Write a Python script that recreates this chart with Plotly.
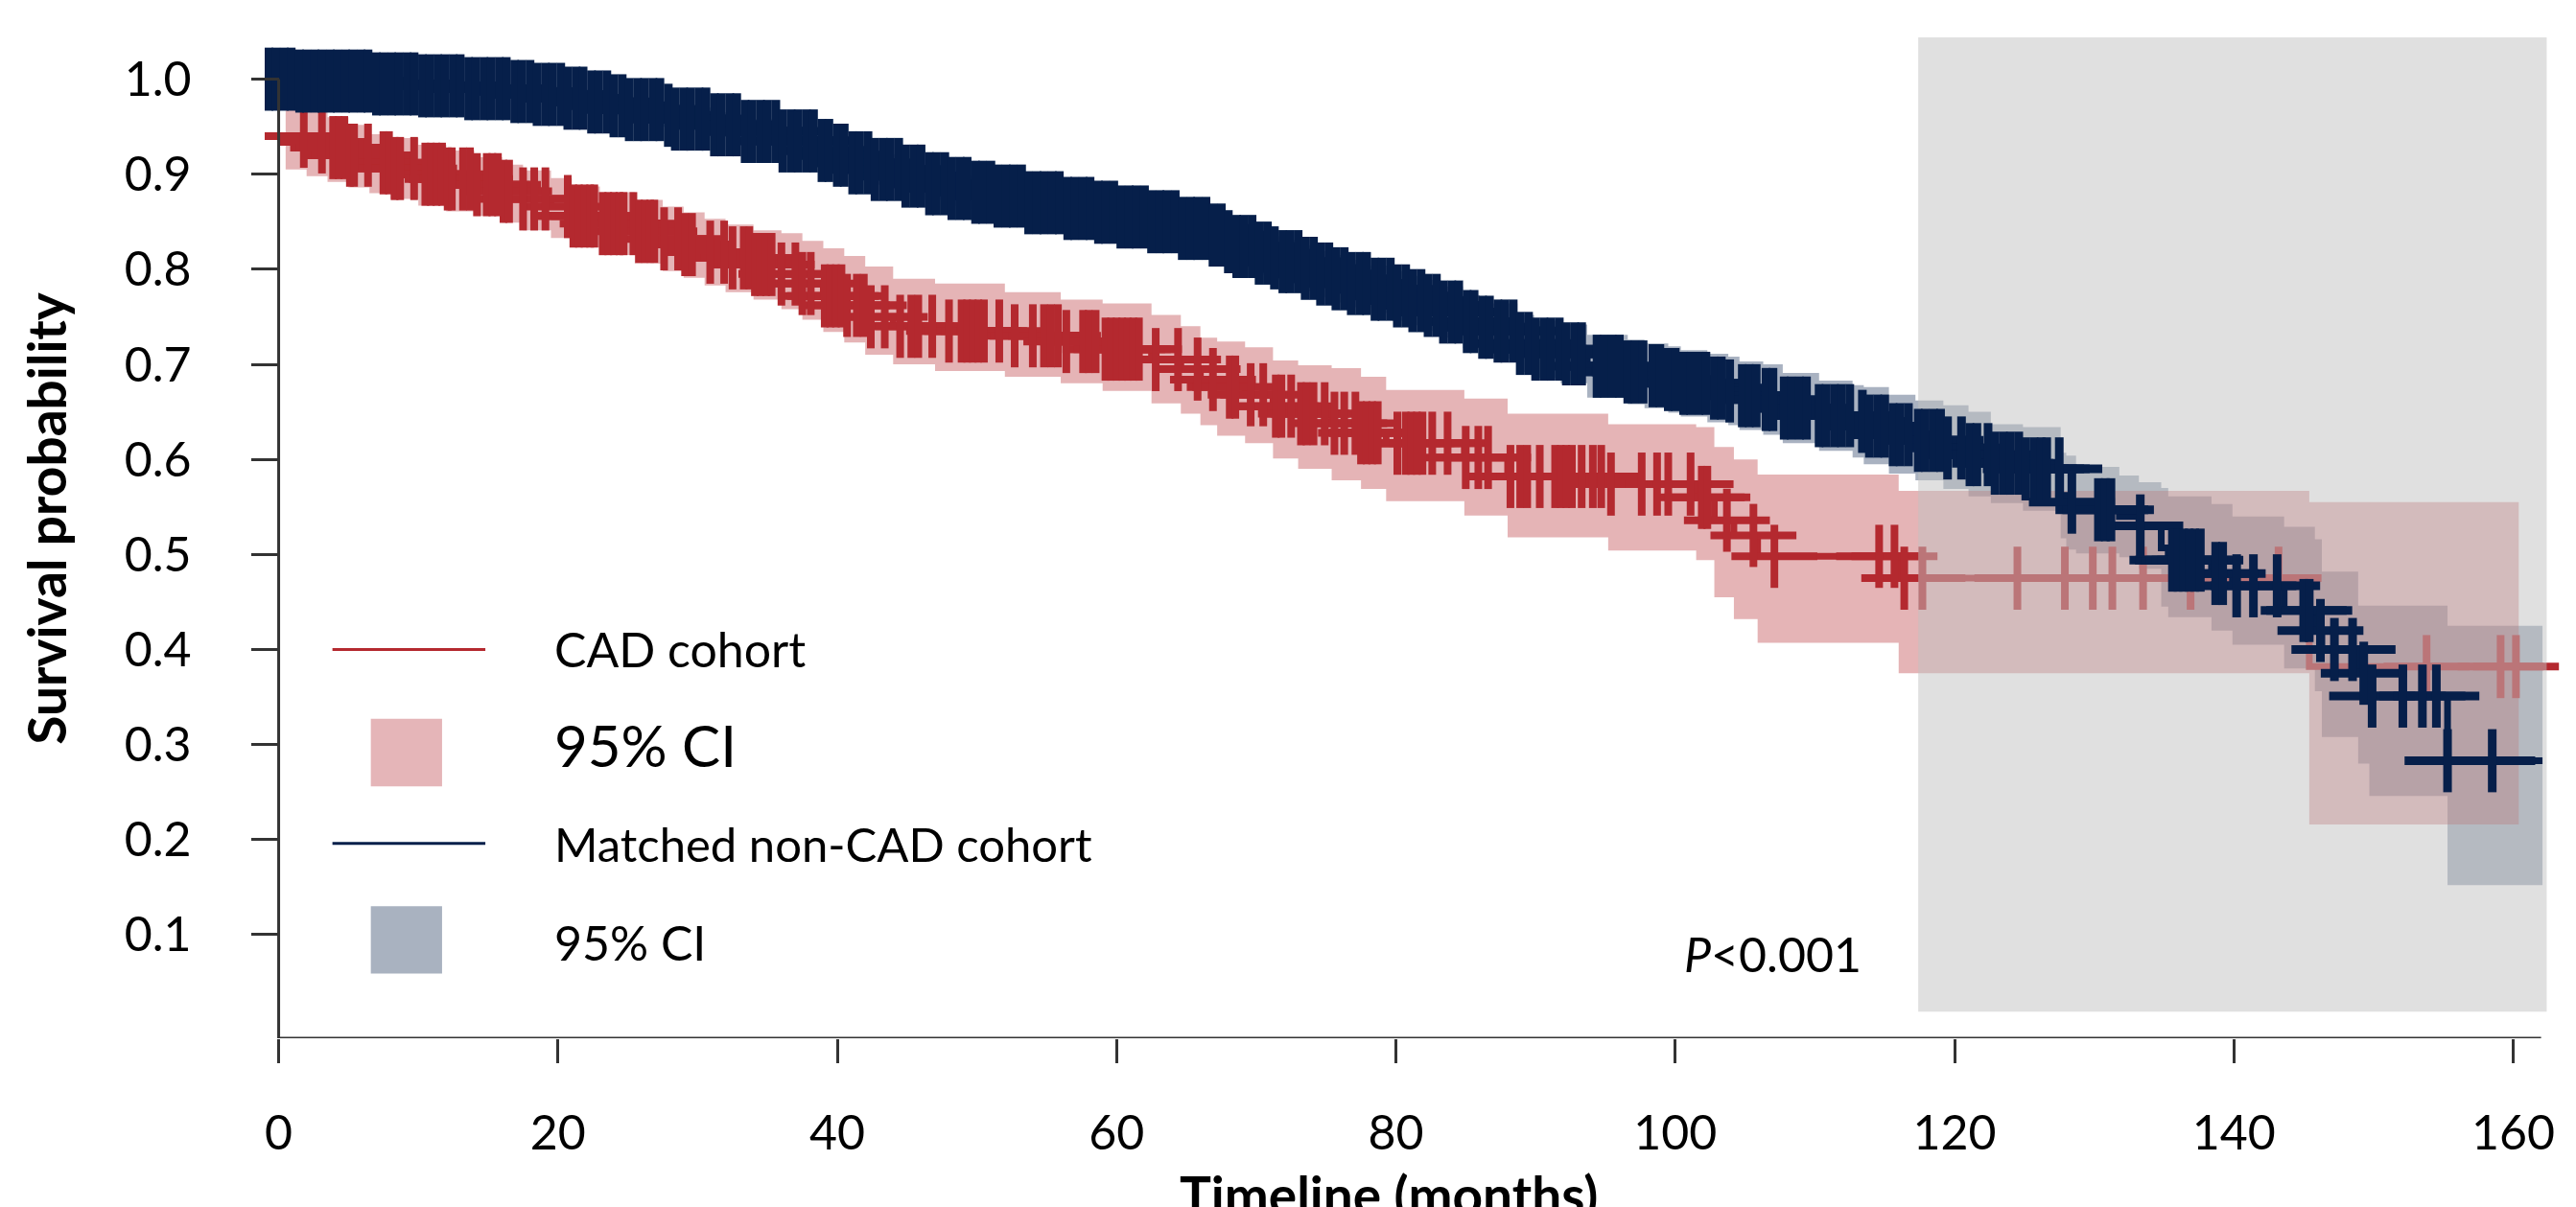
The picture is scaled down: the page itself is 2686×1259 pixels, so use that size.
import numpy as np
import plotly.graph_objects as go

# ---------------- data ----------------
# CAD cohort: Kaplan-Meier step times (months), survival, 95% CI
cad_t = [0.5, 2.0, 3.5, 5.0, 6.5, 8.0, 10.0, 12.0, 14.0, 16.0, 17.5, 19.5, 21.0, 23.0, 25.5, 27.5,
         29.0, 30.5, 32.0, 34.0, 36.0, 37.5, 39.0, 40.5, 42.0, 44.0, 47.0, 52.0, 56.0, 59.0, 62.5,
         64.6, 66.0, 67.2, 69.2, 71.2, 73.0, 75.4, 77.5, 79.3, 84.9, 88.0, 95.2, 101.5, 102.8,
         104.2, 105.9, 116.0, 145.4]
cad_s = [0.940, 0.934, 0.928, 0.920, 0.912, 0.906, 0.900, 0.895, 0.889, 0.882, 0.874, 0.866, 0.856,
         0.848, 0.840, 0.832, 0.826, 0.818, 0.812, 0.805, 0.795, 0.785, 0.772, 0.762, 0.750, 0.740,
         0.735, 0.730, 0.724, 0.716, 0.705, 0.695, 0.684, 0.676, 0.668, 0.656, 0.648, 0.638, 0.628,
         0.617, 0.602, 0.582, 0.574, 0.560, 0.536, 0.520, 0.498, 0.475, 0.382]
cad_hi = [0.972, 0.968, 0.960, 0.952, 0.942, 0.938, 0.931, 0.925, 0.918, 0.910, 0.904, 0.896, 0.887,
          0.881, 0.873, 0.866, 0.860, 0.853, 0.847, 0.841, 0.838, 0.830, 0.822, 0.814, 0.803, 0.790,
          0.785, 0.776, 0.768, 0.764, 0.752, 0.740, 0.728, 0.724, 0.718, 0.704, 0.699, 0.696, 0.687,
          0.673, 0.664, 0.648, 0.637, 0.634, 0.613, 0.600, 0.584, 0.567, 0.555]
cad_lo = [0.905, 0.898, 0.892, 0.886, 0.880, 0.874, 0.867, 0.861, 0.856, 0.849, 0.841, 0.833, 0.823,
          0.815, 0.806, 0.798, 0.791, 0.783, 0.776, 0.768, 0.758, 0.747, 0.734, 0.723, 0.710, 0.700,
          0.693, 0.687, 0.680, 0.672, 0.659, 0.648, 0.636, 0.625, 0.617, 0.601, 0.590, 0.578, 0.569,
          0.556, 0.541, 0.518, 0.504, 0.494, 0.455, 0.432, 0.407, 0.375, 0.216]
cad_end = 160.4
cad_censor = [1.8, 3.1, 3.9, 4.3, 4.7, 5.1, 5.4, 6.4, 7.5, 7.9, 8.3, 8.7, 9.7, 10.5, 10.9, 11.3, 11.7,
              12.1, 12.4, 13.2, 13.7, 14.2, 14.9, 15.3, 15.7, 16.1, 16.5, 17.5, 18.3, 19.1, 20.7, 21.1,
              21.5, 21.9, 22.3, 22.6, 23.2, 23.6, 24.0, 24.4, 24.7, 25.4, 25.8, 26.2, 26.6, 26.9, 27.6,
              28.6, 29.1, 29.6, 30.9, 31.9, 32.5, 33.3, 33.7, 34.1, 34.5, 34.9, 35.3, 36.0, 37.0, 37.5,
              38.1, 39.1, 39.5, 39.9, 40.3, 40.7, 41.4, 41.9, 42.4, 43.4, 44.5, 45.3, 45.8, 46.8, 48.0,
              48.9, 49.3, 49.7, 50.1, 50.5, 51.6, 52.7, 54.0, 54.8, 55.3, 55.8, 56.4, 57.6, 58.0, 58.5,
              59.2, 59.6, 60.0, 60.4, 60.8, 61.2, 61.6, 62.8, 64.4, 65.8, 66.9, 68.1, 68.5, 69.6, 70.5,
              71.4, 71.8, 72.5, 73.2, 73.6, 74.1, 74.9, 75.6, 76.3, 77.1, 77.5, 77.9, 78.3, 78.7, 80.1,
              80.7, 81.1, 81.5, 81.9, 82.6, 83.7, 85.0, 85.9, 86.6, 88.2, 88.9, 89.4, 90.3, 91.4, 91.8,
              92.2, 92.6, 93.3, 94.1, 94.7, 95.4, 97.6, 98.7, 99.5, 101.1, 101.9, 102.3, 103.7, 105.6,
              107.1, 114.6, 115.7, 116.4, 117.7, 124.5, 127.9, 129.9, 131.3, 133.5, 136.9, 143.2,
              153.8, 159.1, 160.2]

# Matched non-CAD cohort
non_t = [-1.0, 1.4, 7.0, 10.0, 13.5, 16.6, 18.4, 20.5, 22.4, 23.6, 25.0, 27.5, 28.4, 31.0, 32.9,
         35.9, 38.4, 39.6, 41.0, 42.7, 44.5, 46.2, 48.0, 49.5, 51.3, 53.5, 56.0, 58.2, 60.3, 62.2,
         64.5, 66.5, 67.6, 68.6, 70.0, 71.0, 71.8, 73.3, 74.3, 75.6, 76.6, 78.2, 79.7, 81.0, 82.1,
         83.2, 84.8, 86.0, 86.8, 88.7, 89.9, 91.8, 93.7, 96.6, 97.8, 99.5, 100.4, 102.3, 103.8,
         104.6, 106.3, 107.7, 110.3, 112.7, 113.5, 115.3, 117.2, 119.2, 121.0, 122.6, 124.9, 127.6,
         128.0, 128.7, 131.8, 133.2, 134.8, 135.3, 138.4, 139.9, 143.6, 145.8, 146.3, 148.9, 149.7,
         155.3]
non_s = [1.000, 0.998, 0.995, 0.993, 0.990, 0.987, 0.984, 0.980, 0.976, 0.972, 0.968, 0.962, 0.958,
         0.952, 0.945, 0.935, 0.925, 0.920, 0.912, 0.905, 0.898, 0.890, 0.885, 0.881, 0.877, 0.870,
         0.864, 0.860, 0.855, 0.850, 0.843, 0.836, 0.829, 0.824, 0.817, 0.812, 0.808, 0.801, 0.795,
         0.790, 0.785, 0.779, 0.772, 0.767, 0.762, 0.755, 0.745, 0.739, 0.735, 0.722, 0.716, 0.711,
         0.698, 0.692, 0.688, 0.684, 0.680, 0.675, 0.672, 0.667, 0.663, 0.654, 0.646, 0.640, 0.635,
         0.626, 0.620, 0.612, 0.605, 0.596, 0.590, 0.562, 0.555, 0.547, 0.540, 0.530, 0.507, 0.494,
         0.480, 0.467, 0.441, 0.420, 0.400, 0.375, 0.351, 0.283]
non_hi = [1.000, 1.000, 0.999, 0.998, 0.996, 0.994, 0.992, 0.989, 0.986, 0.982, 0.979, 0.974, 0.970,
          0.965, 0.958, 0.949, 0.940, 0.935, 0.928, 0.921, 0.915, 0.907, 0.903, 0.899, 0.895, 0.889,
          0.883, 0.880, 0.875, 0.871, 0.864, 0.858, 0.851, 0.846, 0.840, 0.835, 0.831, 0.825, 0.819,
          0.815, 0.810, 0.804, 0.798, 0.793, 0.789, 0.782, 0.773, 0.767, 0.764, 0.752, 0.746, 0.742,
          0.731, 0.726, 0.722, 0.719, 0.715, 0.711, 0.708, 0.703, 0.700, 0.691, 0.683, 0.678, 0.676,
          0.668, 0.662, 0.657, 0.650, 0.637, 0.634, 0.607, 0.604, 0.592, 0.583, 0.576, 0.570, 0.561,
          0.553, 0.540, 0.529, 0.516, 0.482, 0.446, 0.446, 0.425]
non_lo = [0.999, 0.996, 0.991, 0.988, 0.984, 0.980, 0.976, 0.971, 0.966, 0.962, 0.957, 0.950, 0.946,
          0.939, 0.932, 0.921, 0.910, 0.905, 0.896, 0.889, 0.881, 0.873, 0.867, 0.863, 0.859, 0.851,
          0.845, 0.840, 0.835, 0.829, 0.822, 0.814, 0.807, 0.802, 0.794, 0.789, 0.785, 0.777, 0.771,
          0.765, 0.760, 0.754, 0.746, 0.741, 0.735, 0.728, 0.717, 0.711, 0.706, 0.692, 0.686, 0.680,
          0.665, 0.658, 0.654, 0.649, 0.645, 0.639, 0.636, 0.631, 0.626, 0.617, 0.609, 0.602, 0.595,
          0.585, 0.578, 0.569, 0.561, 0.554, 0.546, 0.517, 0.505, 0.501, 0.497, 0.485, 0.445, 0.434,
          0.420, 0.405, 0.380, 0.356, 0.308, 0.280, 0.246, 0.152]
non_end = 162.1
non_censor = [-0.7, -0.2, 0.4, 0.9, 1.5, 2.0, 2.6, 3.1, 3.7, 4.2,
              4.8, 5.3, 5.9, 6.4, 7.0, 7.5, 8.1, 8.6, 9.2, 9.7,
              10.3, 10.8, 11.4, 11.9, 12.5, 13.0, 13.6, 14.1, 14.7, 15.2,
              15.8, 16.3, 16.9, 17.4, 18.0, 18.5, 19.1, 19.6, 20.2, 20.7,
              21.3, 21.8, 22.4, 22.9, 23.5, 24.0, 24.6, 25.1, 25.7, 26.2,
              26.8, 27.3, 27.9, 28.4, 29.0, 29.5, 30.1, 30.6, 31.2, 31.7,
              32.3, 32.8, 33.4, 33.9, 34.5, 35.0, 35.6, 36.1, 36.7, 37.2,
              37.8, 38.3, 38.9, 39.4, 40.0, 40.5, 41.1, 41.6, 42.2, 42.7,
              43.3, 43.8, 44.4, 44.9, 45.5, 46.0, 46.6, 47.1, 47.7, 48.2,
              48.8, 49.3, 49.9, 50.4, 51.0, 51.5, 52.1, 52.6, 53.2, 53.7,
              54.3, 54.8, 55.4, 55.9, 56.5, 57.0, 57.6, 58.1, 58.7, 59.2,
              59.8, 60.3, 60.9, 61.4, 62.0, 62.5, 63.1, 63.6, 64.2, 64.7,
              65.3, 65.8, 66.4, 66.9, 67.5, 68.0, 68.6, 69.1, 69.7, 70.2,
              70.8, 71.3, 71.9, 72.4, 73.0, 73.5, 74.1, 74.6, 75.2, 75.7,
              76.3, 76.8, 77.4, 77.9, 78.5, 79.0, 79.6, 80.1, 80.7, 81.2,
              81.8, 82.3, 82.9, 83.4, 84.0, 84.5, 85.1, 85.6, 86.2, 86.7,
              87.3, 87.8, 88.4, 88.9, 89.5, 90.0, 90.6, 91.1, 91.7, 92.2,
              92.8, 93.3, 94.4, 94.9, 95.5, 96.0, 96.6, 97.1, 97.7, 98.4,
              98.9, 99.5, 100.0, 100.6, 101.1, 101.7, 102.2, 102.8, 103.3, 103.9,
              104.8, 105.3, 105.8, 106.5, 107.0, 107.8, 108.3, 108.9, 109.4, 110.3,
              110.8, 111.4, 111.9, 112.5, 113.4, 113.9, 114.5, 115.0, 115.6, 116.1,
              116.7, 117.4, 117.9, 118.5, 119.0, 119.5, 120.5, 121.1, 121.6, 122.4,
              122.9, 123.5, 124.0, 124.6, 125.1, 125.7, 126.2, 126.6,
              127.5, 128.4, 130.3, 130.8, 131.2, 133.3, 135.6, 136.0, 136.4, 136.8, 137.2, 137.6,
              138.7, 139.2, 140.2, 141.4, 143.1, 145.0, 145.4, 146.2, 147.2, 148.5, 149.3, 149.9,
              152.1, 153.5, 154.5, 155.3, 158.5]

shade_x = [117.4, 162.4]     # grey shaded follow-up window
shade_y = [0.019, 1.044]

x_ticks = [0, 20, 40, 60, 80, 100, 120, 140, 160]
y_ticks = [0.1, 0.2, 0.3, 0.4, 0.5, 0.6, 0.7, 0.8, 0.9, 1.0]
x_range = [-1.0, 163.4]
y_range = [-0.009, 1.05]
x_axis_end = 162

# ---------------- style ----------------
RED = "#B4292F"
NAVY = "#061F4A"
RED_CI = "rgba(180,41,47,0.35)"
NAVY_CI = "rgba(6,31,74,0.345)"
GREY = "rgba(193,193,193,0.5)"
AX = "#333333"
FONT = "Lato"
W, H = 2686, 1259
ML, MR, MT, MB = 276, 16, 33, 176


def step_xy(t, v, end):
    return list(t) + [end], list(v) + [v[-1]]


def censor_y(t, s, c):
    idx = np.searchsorted(np.array(t), np.array(c), side="right") - 1
    idx = np.clip(idx, 0, len(s) - 1)
    return list(np.array(s)[idx])


fig = go.Figure()


def add_ci(t, hi, lo, end, color):
    xl, yl = step_xy(t, lo, end)
    xh, yh = step_xy(t, hi, end)
    fig.add_trace(go.Scatter(x=xl, y=yl, mode="lines", line=dict(width=0, shape="hv"),
                             hoverinfo="skip", showlegend=False))
    fig.add_trace(go.Scatter(x=xh, y=yh, mode="lines", line=dict(width=0, shape="hv"),
                             fill="tonexty", fillcolor=color, hoverinfo="skip", showlegend=False))


def add_km(t, s, end, censor, color, lw, mw):
    xs, ys = step_xy(t, s, end)
    fig.add_trace(go.Scatter(x=xs, y=ys, mode="lines", line=dict(color=color, width=lw, shape="hv"),
                             showlegend=False))
    cy = censor_y(t, s, censor)
    fig.add_trace(go.Scatter(x=censor, y=cy, mode="markers",
                             marker=dict(symbol="line-ew", size=64, line=dict(color=color, width=mw)),
                             showlegend=False))
    fig.add_trace(go.Scatter(x=censor, y=cy, mode="markers",
                             marker=dict(symbol="line-ns", size=47, line=dict(color=color, width=mw)),
                             showlegend=False))


# layering: non-CAD CI, CAD CI, CAD curve, grey window, non-CAD curve
add_ci(non_t, non_hi, non_lo, non_end, NAVY_CI)
add_ci(cad_t, cad_hi, cad_lo, cad_end, RED_CI)
add_km(cad_t, cad_s, cad_end, cad_censor, RED, 7, 8)
fig.add_trace(go.Scatter(x=[shade_x[0], shade_x[1], shade_x[1], shade_x[0], shade_x[0]],
                         y=[shade_y[0], shade_y[0], shade_y[1], shade_y[1], shade_y[0]],
                         mode="lines", line=dict(width=0), fill="toself", fillcolor=GREY,
                         hoverinfo="skip", showlegend=False))
add_km(non_t, non_s, non_end, non_censor, NAVY, 7, 9)

# axis lines (bounded spines)
shapes = [
    dict(type="line", xref="x", yref="y", x0=0, x1=0, y0=y_range[0], y1=1.0,
         line=dict(color=AX, width=3)),
    dict(type="line", xref="x", yref="y", x0=0, x1=x_axis_end, y0=y_range[0], y1=y_range[0],
         line=dict(color=AX, width=3)),
    # legend symbols
    dict(type="line", xref="x", yref="y", x0=3.85, x1=14.8, y0=0.40, y1=0.40,
         line=dict(color=RED, width=3)),
    dict(type="rect", xref="x", yref="y", x0=6.6, x1=11.7, y0=0.256, y1=0.327,
         fillcolor="#E5B5B8", line=dict(width=0)),
    dict(type="line", xref="x", yref="y", x0=3.85, x1=14.8, y0=0.196, y1=0.196,
         line=dict(color=NAVY, width=3)),
    dict(type="rect", xref="x", yref="y", x0=6.6, x1=11.7, y0=0.059, y1=0.130,
         fillcolor="#A9B2C0", line=dict(width=0)),
]

plot_w = W - ML - MR
plot_h = H - MT - MB
annotations = [
    dict(x=19.6, y=0.400, xref="x", yref="y", text="CAD cohort", showarrow=False,
         xanchor="left", yanchor="middle", font=dict(family=FONT, size=50, color="black")),
    dict(x=19.6, y=0.300, xref="x", yref="y", text="95% CI", showarrow=False,
         xanchor="left", yanchor="middle", font=dict(family=FONT, size=60, color="black")),
    dict(x=19.6, y=0.196, xref="x", yref="y", text="Matched non-CAD cohort", showarrow=False,
         xanchor="left", yanchor="middle", font=dict(family=FONT, size=49, color="black")),
    dict(x=19.6, y=0.092, xref="x", yref="y", text="95% CI", showarrow=False,
         xanchor="left", yanchor="middle", font=dict(family=FONT, size=50, color="black")),
    dict(x=100.5, y=0.080, xref="x", yref="y", text="<i>P</i>&lt;0.001", showarrow=False,
         xanchor="left", yanchor="middle", font=dict(family=FONT, size=50, color="black")),
    dict(x=79.5, y=-128 / plot_h, xref="x", yref="paper",
         text="Timeline (months)", showarrow=False, xanchor="center", yanchor="top",
         font=dict(family=FONT, size=55, color="black", weight="bold")),
    dict(x=(48 - ML) / plot_w, y=0.538, xref="paper", yref="y", text="Survival probability",
         showarrow=False, textangle=-90, xanchor="center", yanchor="middle",
         font=dict(family=FONT, size=55, color="black", weight="bold")),
]

fig.update_layout(
    width=W, height=H,
    margin=dict(l=ML, r=MR, t=MT, b=MB, autoexpand=False),
    paper_bgcolor="white", plot_bgcolor="white",
    showlegend=False,
    hovermode=False,
    shapes=shapes,
    annotations=annotations,
    xaxis=dict(range=x_range, tickvals=x_ticks, ticks="outside", ticklen=25, tickwidth=3,
               tickcolor=AX, showline=False, showgrid=False, zeroline=False,
               ticklabelstandoff=30, automargin=False,
               tickfont=dict(family=FONT, size=50, color="black")),
    yaxis=dict(range=y_range, tickvals=y_ticks, tickformat=".1f", ticks="outside", ticklen=29,
               tickwidth=3, tickcolor=AX, showline=False, showgrid=False, zeroline=False,
               anchor="free", position=(0 - x_range[0]) / (x_range[1] - x_range[0]),
               ticklabelstandoff=52, automargin=False,
               tickfont=dict(family=FONT, size=50, color="black")),
)

fig.write_html("out.html", config={"displayModeBar": False},
               post_script="document.body.style.margin='0px';")
